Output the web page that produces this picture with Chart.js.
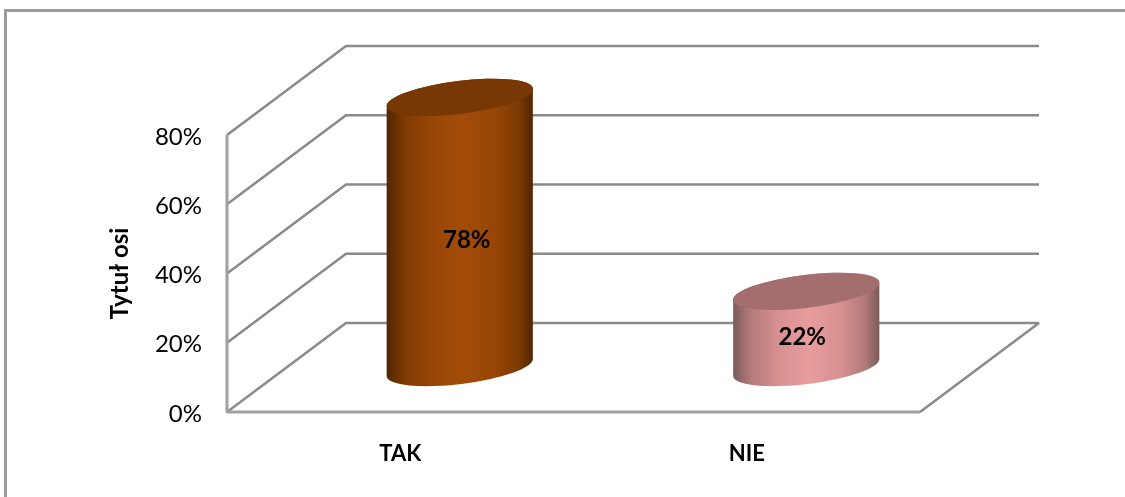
<!DOCTYPE html>
<html>
<head>
<meta charset="utf-8">
<title>Wykres</title>
<script src="https://cdn.jsdelivr.net/npm/chart.js@4/dist/chart.umd.min.js"></script>
<style>
  html,body{margin:0;padding:0;background:#fff;overflow:hidden}
  #wrap{position:relative;width:1125px;height:497px}
</style>
</head>
<body>
<div id="wrap"><canvas id="chart" width="1125" height="497"></canvas></div>
<script>
const categories = ['TAK', 'NIE'];
const values = [78, 22];
const yTicks = [0, 20, 40, 60, 80];
const axisTitle = 'Tytuł osi';

// colours for each cylinder: edge, shoulder, near centre, centre, lid
const bodyEdge = ['#4f2500', '#7a5959'];
const bodyShoulder = ['#7d3a03', '#b27a7a'];
const bodyNear = ['#964506', '#d69090'];
const bodyMid  = ['#a34c08', '#e89c9c'];
const lidColor = ['#783805', '#a56e6e'];

const FONT = 'Lato, Carlito, sans-serif';
const GRID = '#8a8a8a';
const DEPTH_X = 119, DEPTH_Y = 89;   // 3D wall offset
const ELL_RY = 16.5, ELL_ROT = -7 * Math.PI / 180;
const LABEL_NUDGE = [[7, 8], [-4, 8]];

const wallsPlugin = {
  id: 'walls',
  beforeDatasetsDraw(chart) {
    const {ctx, chartArea: a, scales: {y}} = chart;
    ctx.save();
    ctx.strokeStyle = GRID;
    ctx.lineWidth = 2.5;
    ctx.lineJoin = 'bevel';
    yTicks.forEach(t => {
      const py = y.getPixelForValue(t);
      ctx.beginPath();
      ctx.moveTo(a.left, py);
      ctx.lineTo(a.left + DEPTH_X, py - DEPTH_Y);
      ctx.lineTo(a.right + DEPTH_X, py - DEPTH_Y);
      if (t === 0) ctx.lineTo(a.right, py);
      ctx.stroke();
    });
    // front edges
    ctx.strokeStyle = '#a0a0a0';
    ctx.lineWidth = 3;
    ctx.beginPath();
    ctx.moveTo(a.left, a.top);
    ctx.lineTo(a.left, a.bottom);
    ctx.lineTo(a.right, a.bottom);
    ctx.stroke();
    ctx.restore();
  },
  afterDatasetsDraw(chart) {
    const ctx = chart.ctx;
    const meta = chart.getDatasetMeta(0);
    meta.data.forEach((bar, i) => {
      const cx = bar.x + DEPTH_X / 2;
      const topY = bar.y - DEPTH_Y / 2;
      const baseY = bar.base - DEPTH_Y / 2;
      const rx = bar.width / 2;
      const g = ctx.createLinearGradient(cx - rx, 0, cx + rx, 0);
      g.addColorStop(0, bodyEdge[i]);
      g.addColorStop(0.12, bodyShoulder[i]);
      g.addColorStop(0.3, bodyNear[i]);
      g.addColorStop(0.52, bodyMid[i]);
      g.addColorStop(0.74, bodyNear[i]);
      g.addColorStop(0.9, bodyShoulder[i]);
      g.addColorStop(1, bodyEdge[i]);
      ctx.save();
      ctx.fillStyle = g;
      ctx.beginPath();
      ctx.ellipse(cx, baseY, rx, ELL_RY, ELL_ROT, 0, Math.PI);
      ctx.ellipse(cx, topY, rx, ELL_RY, ELL_ROT, Math.PI, Math.PI * 2);
      ctx.closePath();
      ctx.fill();
      ctx.fillStyle = lidColor[i];
      ctx.beginPath();
      ctx.ellipse(cx, topY, rx, ELL_RY, ELL_ROT, 0, Math.PI * 2);
      ctx.fill();
      // value label
      ctx.fillStyle = '#000';
      ctx.font = 'bold 24px ' + FONT;
      ctx.textAlign = 'center';
      ctx.textBaseline = 'middle';
      ctx.fillText(values[i] + '%', cx + LABEL_NUDGE[i][0], (topY + baseY) / 2 + LABEL_NUDGE[i][1]);
      ctx.restore();
    });
  }
};

const framePlugin = {
  id: 'frame',
  beforeDraw(chart) {
    const ctx = chart.ctx;
    ctx.save();
    ctx.fillStyle = '#fff';
    ctx.fillRect(0, 0, chart.width, chart.height);
    ctx.strokeStyle = '#9a9a9a';
    ctx.lineWidth = 3;
    ctx.beginPath();
    ctx.moveTo(5.5, chart.height);
    ctx.lineTo(5.5, 10.5);
    ctx.lineTo(chart.width, 10.5);
    ctx.stroke();
    ctx.restore();
  }
};

new Chart(document.getElementById('chart'), {
  type: 'bar',
  data: {
    labels: categories,
    datasets: [{
      label: 'Seria',
      data: values,
      backgroundColor: 'rgba(0,0,0,0)',
      borderWidth: 0,
      categoryPercentage: 1,
      barPercentage: 0.425
    }]
  },
  options: {
    responsive: false,
    animation: false,
    layout: { padding: { left: 102, right: 205, top: 135, bottom: 0 } },
    plugins: { legend: { display: false }, tooltip: { enabled: false } },
    scales: {
      x: {
        grid: { display: false },
        border: { display: false },
        afterFit: s => { s.height = 85; },
        ticks: { color: '#000', padding: 21, maxRotation: 0, font: { family: FONT, size: 22, weight: 'bold' } }
      },
      y: {
        min: 0, max: 80,
        grid: { display: false },
        border: { display: false },
        afterFit: s => { s.width = 125; },
        afterBuildTicks: s => { s.ticks = yTicks.map(v => ({ value: v })); },
        ticks: {
          color: '#000', padding: 17, labelOffset: 2,
          font: { family: FONT, size: 24 },
          callback: v => v + '%'
        },
        title: {
          display: true, text: axisTitle, color: '#000', padding: { top: 4, bottom: 4 },
          font: { family: FONT, size: 24, weight: 'bold' }
        }
      }
    }
  },
  plugins: [framePlugin, wallsPlugin]
});
</script>
</body>
</html>
